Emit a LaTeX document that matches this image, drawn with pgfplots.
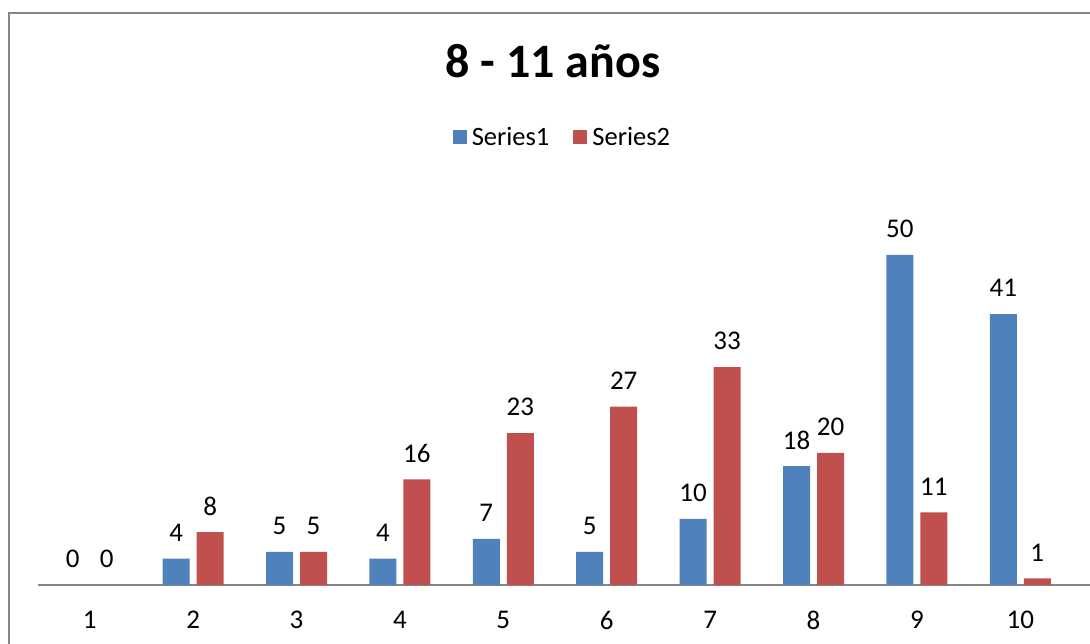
\documentclass[border=0pt]{standalone}
\usepackage{fontspec}
\setmainfont{Carlito}
\usepackage{pgfplots}
\pgfplotsset{compat=1.18}

\definecolor{serA}{RGB}{79,129,189}
\definecolor{serB}{RGB}{192,80,77}
\definecolor{frame}{RGB}{134,134,134}

\begin{document}
\begin{tikzpicture}
\useasboundingbox (0,0) rectangle (1090pt,644pt);
\fill[white] (0,0) rectangle (1090pt,644pt);
% chart frame (cut at right and bottom)
\draw[frame, line width=2pt] (8.5pt,-5pt) -- (8.5pt,631pt) -- (1095pt,631pt);

\begin{axis}[
    at={(38pt,59pt)}, anchor=south west,
    scale only axis,
    width=1052pt, height=385pt,
    xmin=0.5, xmax=10.674,
    ymin=0, ymax=58.3,
    enlargelimits=false,
    ybar=7pt, bar width=27pt,
    axis x line=bottom, axis y line=none,
    x axis line style={draw=frame, line width=2pt, -},
    xtick={1,...,10},
    major tick length=0pt,
    xticklabel style={anchor=center, yshift=-35pt, font=\fontsize{27}{32}\selectfont},
    /pgf/number format/assume math mode=true,
    nodes near coords,
    nodes near coords style={anchor=center, yshift=26pt, font=\fontsize{27}{32}\selectfont, text=black},
    title={8 - 11 años},
    title style={at={(0.4895,1.345)}, anchor=center, font=\bfseries\fontsize{48}{58}\selectfont},
    legend columns=2,
    legend style={at={(0.4985,1.164)}, anchor=center, draw=none, fill=none,
        font=\fontsize{26.5}{31}\selectfont,
        /tikz/every odd column/.append style={column sep=3pt},
        /tikz/every even column/.append style={column sep=22pt}},
    legend image code/.code={\fill[#1] (0pt,-7pt) rectangle (14pt,7pt);},
]
\addplot[fill=serA, draw=none] coordinates {
    (1,0) (2,4) (3,5) (4,4) (5,7) (6,5) (7,10) (8,18) (9,50) (10,41)
};
\addplot[fill=serB, draw=none] coordinates {
    (1,0) (2,8) (3,5) (4,16) (5,23) (6,27) (7,33) (8,20) (9,11) (10,1)
};
\legend{Series1, Series2}
\end{axis}
\end{tikzpicture}
\end{document}
